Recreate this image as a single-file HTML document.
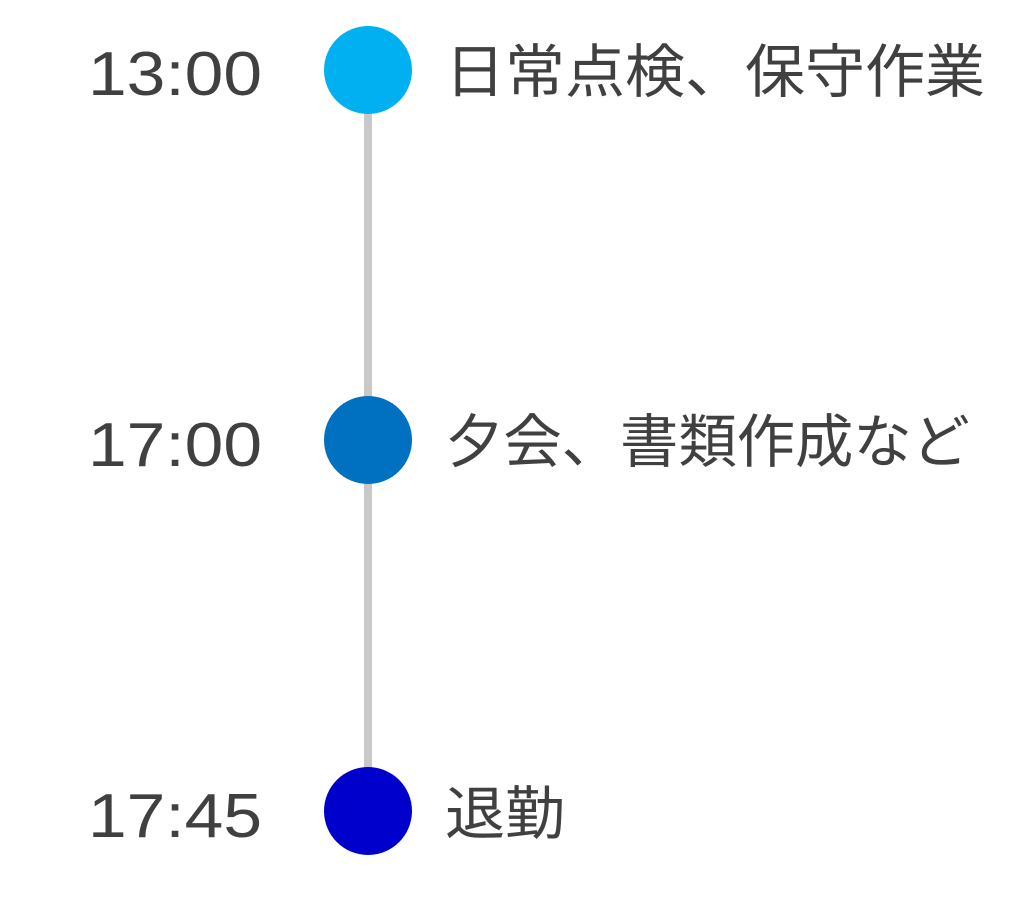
<!DOCTYPE html>
<html><head><meta charset="utf-8"><style>
html,body{margin:0;padding:0;background:#fff;}
svg{display:block;}
text{fill:#404040;}
.t{font-family:"Liberation Sans","Noto Sans CJK JP",sans-serif;font-size:62px;}
.j{font-family:"Liberation Sans","Noto Sans CJK JP",sans-serif;font-size:58px;}
</style></head><body>
<svg width="1024" height="898" viewBox="0 0 1024 898" xmlns="http://www.w3.org/2000/svg">
<line x1="368" y1="70" x2="368" y2="811" stroke="#c8c8c8" stroke-width="8"/>
<circle cx="368" cy="70" r="44" fill="#00B0F0"/>
<circle cx="368" cy="440" r="44" fill="#0070C0"/>
<circle cx="368" cy="811" r="44" fill="#0000CC"/>
<text class="t" x="262" y="95" text-anchor="end" textLength="174" lengthAdjust="spacingAndGlyphs">13:00</text>
<text class="t" x="262" y="466" text-anchor="end" textLength="174" lengthAdjust="spacingAndGlyphs">17:00</text>
<text class="t" x="262" y="837" text-anchor="end" textLength="174" lengthAdjust="spacingAndGlyphs">17:45</text>
<text class="j" x="445" y="92" textLength="540" lengthAdjust="spacingAndGlyphs">日常点検、保守作業</text>
<text class="j" x="445" y="462" textLength="525" lengthAdjust="spacingAndGlyphs">夕会、書類作成など</text>
<text class="j" x="445" y="834" textLength="120" lengthAdjust="spacingAndGlyphs">退勤</text>
</svg>
</body></html>
